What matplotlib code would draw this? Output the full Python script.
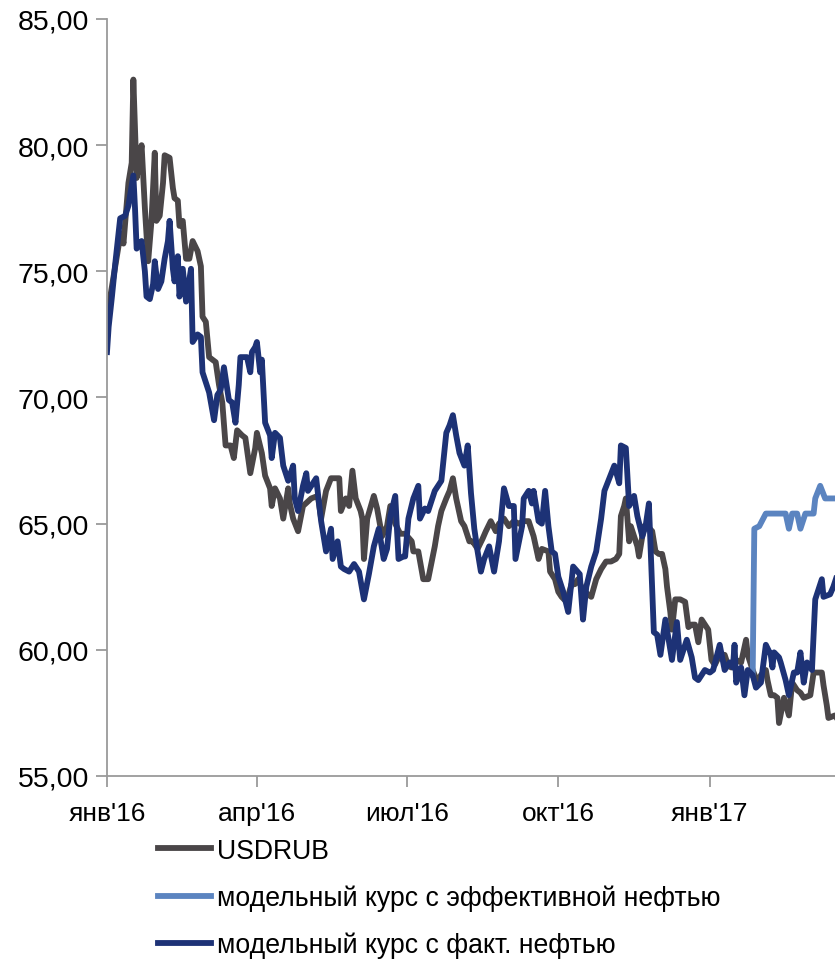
import numpy as np
import matplotlib
matplotlib.use("Agg")
import matplotlib.pyplot as plt

plt.rcParams['font.family'] = ['Liberation Sans', 'DejaVu Sans']

START = np.datetime64('2016-01-01')

# USDRUB: (day offset from 2016-01-01, value)
usd_days = [0, 2, 4, 7, 9, 10, 13, 15, 16, 18, 20, 21, 23, 25, 27, 29, 30, 32, 34, 35, 38, 40, 41, 43, 44,
            46, 48, 50, 52, 55, 57, 58, 60, 62, 64, 66, 68, 70, 72, 75, 77, 79, 82, 84, 87, 90, 91, 94, 96,
            99, 100, 102, 105, 107, 110, 111, 113, 116, 119, 124, 128, 130, 133, 136, 141, 142, 145, 147,
            149, 151, 154, 155, 156, 158, 162, 164, 167, 170, 172, 175, 178, 181, 185, 186, 189, 192, 195,
            199, 201, 203, 206, 208, 210, 212, 215, 217, 220, 222, 225, 228, 230, 233, 236, 238, 241, 244,
            247, 250, 253, 256, 259, 262, 264, 268, 269, 272, 274, 276, 279, 282, 284, 286, 288, 290, 294,
            297, 300, 303, 306, 309, 311, 312, 314, 315, 317, 318, 322, 323, 326, 328, 331, 333, 335, 337,
            339, 340, 342, 343, 345, 348, 351, 353, 355, 357, 359, 361, 363, 365, 367, 369, 372, 375, 377,
            379, 382, 385, 388, 389, 392, 395, 397, 400, 401, 403, 405, 407, 408, 411, 414, 416, 419, 421,
            423, 427, 429, 432, 434, 435, 437, 438, 442, 443]
usd_vals = [72.5, 74.0, 74.8, 76.0, 76.5, 76.1, 78.5, 79.3, 82.6, 78.7, 79.5, 80.0, 77.5, 75.4, 77.0, 79.7,
            77.0, 77.2, 78.5, 79.6, 79.5, 78.3, 77.9, 77.8, 76.8, 77.0, 75.5, 75.5, 76.2, 75.8, 75.2, 73.2,
            73.0, 71.6, 71.5, 71.4, 70.5, 69.8, 68.1, 68.1, 67.6, 68.7, 68.5, 68.4, 67.0, 68.0, 68.6, 67.8,
            66.9, 66.4, 65.7, 66.4, 66.0, 65.2, 66.4, 65.8, 65.2, 64.7, 65.7, 66.0, 66.1, 65.2, 66.3, 66.8,
            66.8, 65.5, 66.0, 65.7, 67.1, 66.0, 65.5, 65.2, 63.6, 65.2, 66.1, 65.6, 64.5, 64.9, 65.7, 65.0,
            64.6, 64.6, 64.3, 63.9, 63.9, 62.8, 62.8, 64.1, 64.9, 65.5, 66.0, 66.3, 66.8, 66.0, 65.1, 64.9,
            64.3, 64.3, 64.0, 64.4, 64.7, 65.1, 64.7, 65.0, 65.2, 64.9, 65.1, 65.0, 65.1, 65.1, 64.5, 63.6,
            64.0, 63.9, 63.1, 62.8, 62.3, 62.1, 61.9, 62.6, 62.6, 62.8, 62.5, 62.3, 62.1, 62.8, 63.2, 63.5,
            63.5, 63.6, 63.8, 65.3, 65.7, 66.0, 64.3, 64.9, 64.1, 63.7, 64.9, 64.9, 64.7, 63.9, 63.8, 63.8,
            63.2, 62.5, 61.5, 60.8, 62.0, 62.0, 61.9, 60.9, 61.0, 61.0, 60.3, 61.2, 61.0, 60.8, 59.6, 59.4,
            59.8, 59.8, 59.4, 59.3, 59.6, 59.5, 60.4, 59.8, 59.2, 58.7, 59.0, 59.2, 58.8, 58.2, 58.2, 58.1,
            57.1, 58.1, 57.4, 58.7, 58.4, 58.3, 58.1, 58.2, 59.1, 59.1, 59.1, 58.6, 57.8, 57.3, 57.4, 57.3]

# model rate with actual oil
fact_days = [0, 1, 3, 5, 8, 11, 13, 16, 17, 18, 21, 23, 24, 26, 28, 29, 31, 33, 35, 37, 38, 40, 41, 43, 44,
             46, 48, 51, 52, 55, 57, 58, 62, 65, 67, 69, 71, 74, 76, 78, 80, 81, 83, 85, 87, 88, 90, 91, 93,
             94, 96, 99, 100, 102, 105, 107, 110, 113, 114, 116, 119, 121, 122, 125, 127, 130, 133, 136, 137,
             140, 142, 144, 147, 150, 153, 156, 159, 162, 165, 166, 168, 170, 172, 175, 177, 180, 181, 183,
             186, 189, 190, 193, 195, 199, 203, 206, 208, 210, 212, 214, 217, 219, 221, 223, 225, 227, 229,
             232, 235, 238, 241, 244, 247, 248, 252, 253, 256, 258, 259, 262, 264, 266, 268, 270, 272, 274,
             277, 280, 283, 287, 289, 291, 294, 297, 300, 302, 305, 308, 311, 312, 315, 317, 320, 322, 325,
             327, 329, 332, 334, 336, 339, 341, 343, 346, 348, 350, 352, 355, 357, 359, 363, 366, 368, 372,
             375, 378, 380, 381, 382, 385, 387, 389, 392, 394, 397, 400, 403, 404, 405, 408, 409, 412, 414,
             417, 419, 421, 423, 425, 428, 430, 432, 434, 435, 439, 441, 443]
fact_vals = [71.8, 72.8, 74.0, 75.3, 77.1, 77.2, 77.6, 78.8, 77.5, 75.9, 76.2, 75.0, 74.0, 73.9, 74.5, 75.4,
             74.3, 74.6, 75.5, 76.2, 77.0, 75.1, 74.6, 75.6, 74.0, 75.1, 73.8, 75.1, 72.2, 72.5, 72.4, 71.0,
             70.2, 69.1, 70.1, 70.3, 71.2, 69.9, 69.8, 69.0, 70.5, 71.6, 71.6, 71.6, 71.0, 71.8, 72.0, 72.2,
             71.0, 71.5, 69.0, 68.5, 67.6, 68.6, 68.4, 67.3, 66.7, 67.3, 66.0, 65.5, 66.5, 67.0, 66.3, 66.6,
             66.8, 65.1, 63.9, 64.8, 63.6, 64.3, 63.3, 63.2, 63.1, 63.4, 63.1, 62.0, 63.0, 64.1, 64.8, 64.4,
             63.6, 64.0, 65.3, 66.1, 63.6, 63.7, 63.7, 65.2, 66.0, 66.5, 65.2, 65.6, 65.5, 66.3, 66.7, 68.6,
             68.9, 69.3, 68.5, 67.8, 67.3, 68.1, 66.2, 64.8, 63.9, 63.1, 63.6, 64.1, 63.1, 64.3, 66.4, 65.7,
             65.7, 63.6, 64.9, 66.0, 66.3, 65.8, 66.3, 65.1, 65.0, 66.3, 64.9, 63.9, 63.8, 62.9, 62.3, 61.5,
             63.3, 63.0, 61.2, 62.5, 63.3, 63.9, 65.2, 66.3, 66.8, 67.3, 66.6, 68.1, 68.0, 65.7, 66.1, 65.3,
             64.5, 64.9, 65.8, 60.7, 60.6, 59.8, 61.2, 60.4, 59.6, 61.1, 59.6, 60.0, 60.4, 59.7, 58.9, 58.8,
             59.2, 59.1, 59.2, 60.2, 59.2, 59.5, 59.3, 60.2, 58.7, 59.3, 58.2, 59.2, 59.0, 58.5, 58.7, 60.2,
             59.8, 59.3, 59.9, 59.7, 59.5, 58.8, 58.2, 59.1, 59.1, 59.9, 58.7, 59.5, 59.2, 62.0, 62.4, 62.8,
             62.1, 62.2, 62.5, 62.9]

# model rate with effective oil (diverges from Feb 2017)
eff_days = [392, 393, 396, 400, 405, 412, 414, 416, 419, 421, 424, 429, 430, 433, 436, 443]
eff_vals = [59.0, 64.8, 64.9, 65.4, 65.4, 65.4, 64.8, 65.4, 65.4, 64.8, 65.4, 65.4, 66.0, 66.5, 66.0, 66.0]

tick_dates = ['2016-01-01', '2016-04-01', '2016-07-01', '2016-10-01', '2017-01-01']
tick_labels = ["янв'16", "апр'16", "июл'16", "окт'16", "янв'17"]
y_ticks = [55, 60, 65, 70, 75, 80, 85]

labels = ['USDRUB', 'модельный курс с эффективной нефтью', 'модельный курс с факт. нефтью']
colors = ['#4a4648', '#5b84c0', '#1d3276']

def to_dates(days):
    return START + np.array(days, dtype='timedelta64[D]')

fig = plt.figure(figsize=(8.35, 9.62), dpi=100)
ax = fig.add_axes([107/835, 1-777/962, 1-107/835 + 0.002, (777-20)/962])

lw = 4.2
l1, = ax.plot(to_dates(usd_days), usd_vals, color=colors[0], lw=lw, solid_joinstyle='round', label=labels[0])
l2, = ax.plot(to_dates(eff_days), eff_vals, color=colors[1], lw=lw, solid_joinstyle='round', label=labels[1])
l3, = ax.plot(to_dates(fact_days), fact_vals, color=colors[2], lw=lw, solid_joinstyle='round', label=labels[2])

ax.set_xlim(START, START + np.timedelta64(443, 'D'))
ax.set_ylim(55, 85)
ax.set_yticks(y_ticks)
ax.set_yticklabels([f"{v:.2f}".replace('.', ',') for v in y_ticks])
ax.set_xticks(np.array(tick_dates, dtype='datetime64[D]'))
ax.set_xticklabels(tick_labels)

for s in ['top', 'right']:
    ax.spines[s].set_visible(False)
for s in ['left', 'bottom']:
    ax.spines[s].set_color('#9a9a9a')
    ax.spines[s].set_linewidth(1.3)
ax.tick_params(axis='both', colors='#9a9a9a', length=8, width=1.3, direction='out',
               labelcolor='black', labelsize=20)
ax.tick_params(axis='y', labelsize=20.5, pad=5)
ax.tick_params(axis='x', labelsize=19, pad=10)

leg = fig.legend(handles=[l1, l2, l3], labels=labels, loc='upper left',
                 bbox_to_anchor=(147/835, 1-828/962), frameon=False, fontsize=19.2,
                 handlelength=2.0, handletextpad=0.22, labelspacing=0.78, borderaxespad=0)

fig.savefig('out.png', dpi=100)
